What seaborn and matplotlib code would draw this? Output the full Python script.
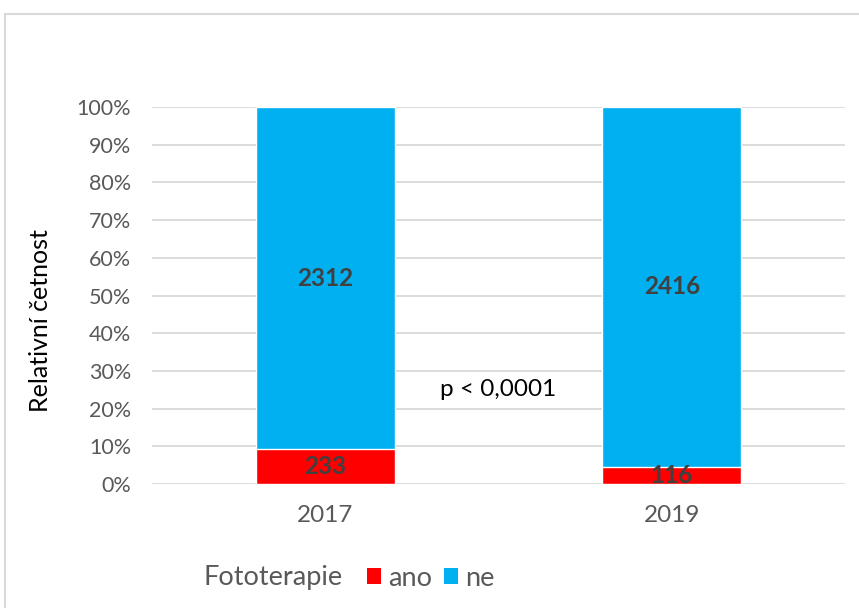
import pandas as pd
import numpy as np
import matplotlib
matplotlib.use("Agg")
import matplotlib.pyplot as plt
import seaborn as sns
from matplotlib.patches import Patch
from matplotlib.lines import Line2D

# data
roky = ["2017", "2019"]
ano = [233, 116]
ne = [2312, 2416]
legenda_nazev = "Fototerapie"
kategorie = ["ano", "ne"]
barvy = {"ano": "#FF0000", "ne": "#00B0F0"}

df = pd.DataFrame({"rok": roky, "ano": ano, "ne": ne})
df["celkem"] = df["ano"] + df["ne"]
df["podil_ano"] = df["ano"] / df["celkem"]
df["podil_celkem"] = df["celkem"] / df["celkem"]

sns.set_theme(style="white")
plt.rcParams["font.family"] = ["Lato", "DejaVu Sans"]
seda = "#595959"

fig = plt.figure(figsize=(8.59, 6.08), dpi=100)
ax = fig.add_axes([152 / 859, 1 - 484 / 608, 693 / 859, 377 / 608])

# skladany sloupcovy graf: modra cela vyska, cervena pres ni
sns.barplot(data=df, x="rok", y="podil_celkem", color=barvy["ne"], width=0.4,
            saturation=1, ax=ax, zorder=2)
sns.barplot(data=df, x="rok", y="podil_ano", color=barvy["ano"], width=0.4,
            saturation=1, ax=ax, zorder=3)

ax.set_ylim(0, 1)
ax.set_xlim(-0.5, 1.5)
ax.set_yticks(np.arange(0, 1.01, 0.1))
ax.set_yticklabels([f"{int(round(v * 100))}%" for v in np.arange(0, 1.01, 0.1)])
ax.yaxis.grid(True, color="#D9D9D9", linewidth=1.3, zorder=0)
ax.set_axisbelow(True)
for s in ax.spines.values():
    s.set_visible(False)
ax.tick_params(axis="y", labelsize=15.5, colors=seda, length=0, pad=15)
ax.tick_params(axis="x", labelsize=17.5, colors=seda, length=0, pad=15)
ax.set_xlabel("")
ax.set_ylabel("")
fig.text(41 / 859, 1 - 321 / 608, "Relativní četnost", rotation=90, ha="center",
         va="center", fontsize=18, color="black")

# popisky hodnot
for i, row in df.iterrows():
    ax.text(i, row["podil_ano"] / 2, str(row["ano"]), ha="center", va="center",
            fontsize=17.5, fontweight="bold", color="#404040", zorder=5)
    ax.text(i, row["podil_ano"] + (1 - row["podil_ano"]) / 2, str(row["ne"]),
            ha="center", va="center", fontsize=17.5, fontweight="bold",
            color="#404040", zorder=5)

ax.text(0.5, 0.25, "p < 0,0001", ha="center", va="center", fontsize=17.5,
        color="black")

# ramecek grafu
fig.add_artist(Line2D([5 / 859, 5 / 859], [0, 1 - 14 / 608], transform=fig.transFigure,
                      color="#D9D9D9", linewidth=1.5))
fig.add_artist(Line2D([5 / 859, 1], [1 - 14 / 608, 1 - 14 / 608], transform=fig.transFigure,
                      color="#D9D9D9", linewidth=1.5))

# legenda
fig.text(203 / 859, 1 - 577 / 608, legenda_nazev, ha="left", va="center",
         fontsize=19.5, color=seda)
handles = [Patch(facecolor=barvy[k], edgecolor="none", label=k) for k in kategorie]
fig.legend(handles=handles, loc="center left", bbox_to_anchor=(367 / 859, 1 - 578 / 608),
           ncol=2, frameon=False, fontsize=19.5, handlelength=0.52, handleheight=0.52,
           handletextpad=0.26, columnspacing=0.44, labelcolor=seda, borderpad=0,
           borderaxespad=0)

fig.savefig("out.png", dpi=100)
